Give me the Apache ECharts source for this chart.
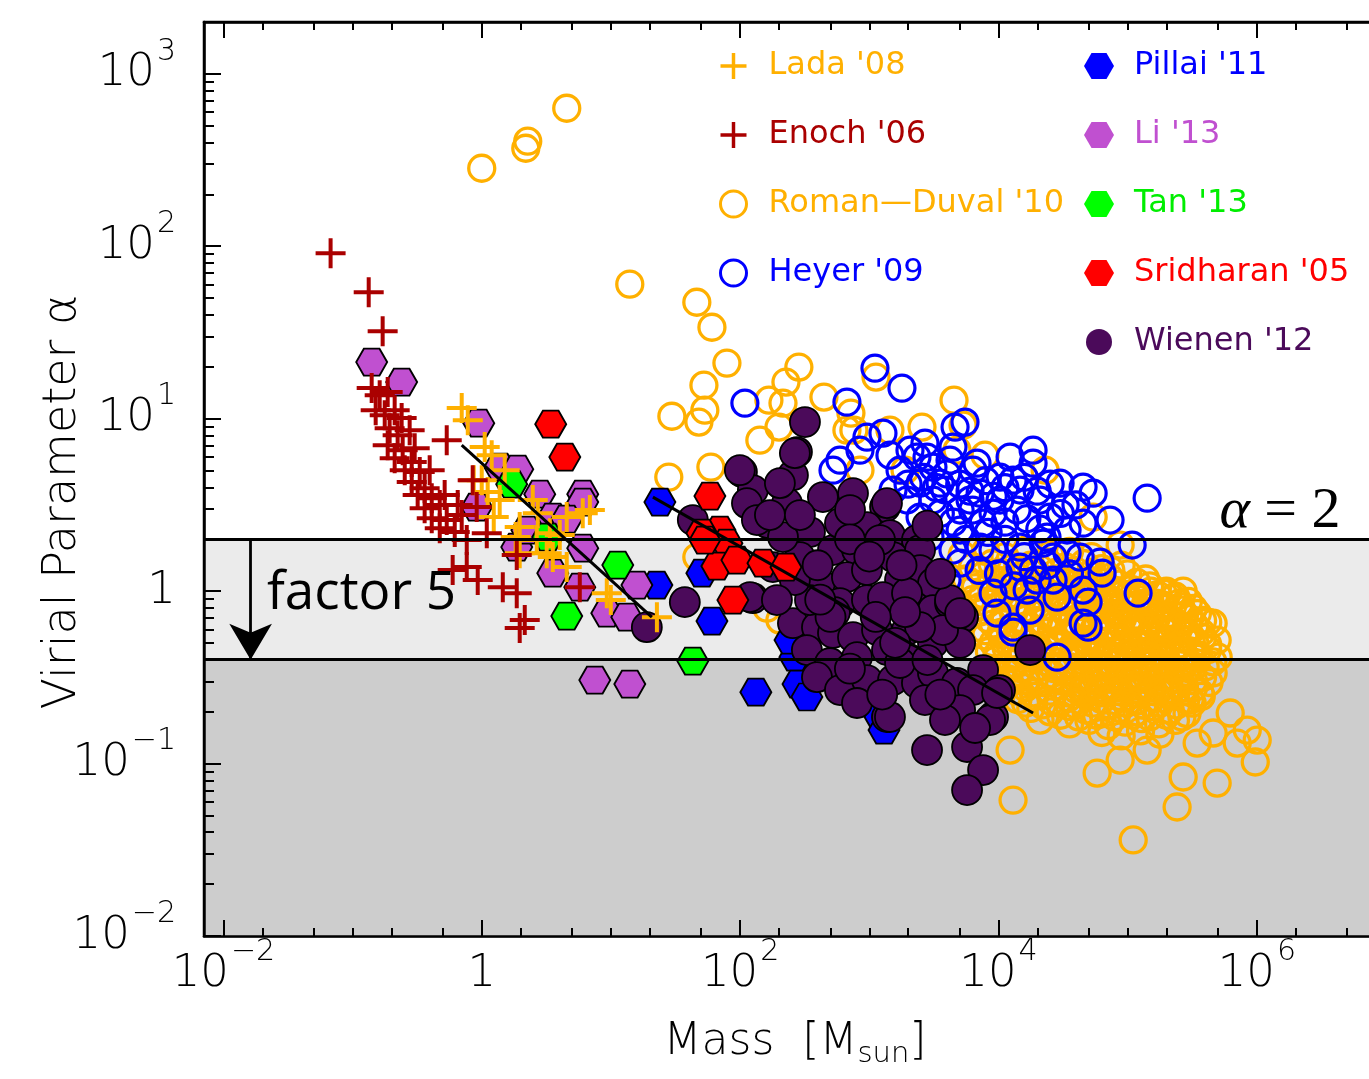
<!DOCTYPE html>
<html><head><meta charset="utf-8">
<script src="https://cdn.jsdelivr.net/npm/echarts@6/dist/echarts.min.js"></script>
<style>html,body{margin:0;padding:0;overflow:hidden;background:#fff}#c{width:1400px;height:1079px}</style>
</head><body><div id="c"></div>
<script>
// Points, stored as [log10(Mass/Msun), log10(alpha)].
const lada08 = [[-0.155,1.061],[-0.108,0.991],[0.023,0.835],[0.077,0.788],[0,0.643],[0.046,0.574],[0.139,0.528],[0.093,0.429],[0.294,0.371],[0.263,0.313],[0.395,0.528],[0.434,0.452],[0.527,0.336],[0.604,0.325],[0.658,0.429],[0.782,0.452],[0.837,0.470],[0.550,0.197],[0.658,0.139],[0.968,-0.012],[0.999,-0.052],[1.356,-0.151],[0.426,0.296],[0.503,0.220],[0.294,0.220],[0.178,0.701],[-0.062,0.643]];
const enoch06 = [[-1.170,1.959],[-0.875,1.733],[-0.767,1.507],[-0.852,1.177],[-0.790,1.136],[-0.728,1.154],[-0.821,1.049],[-0.751,1.020],[-0.674,1.049],[-0.620,1.003],[-0.713,0.945],[-0.651,0.904],[-0.558,0.933],[-0.728,0.846],[-0.612,0.817],[-0.674,0.771],[-0.542,0.748],[-0.596,0.701],[-0.480,0.690],[-0.542,0.632],[-0.442,0.597],[-0.496,0.557],[-0.387,0.539],[-0.442,0.481],[-0.325,0.499],[-0.387,0.423],[-0.271,0.412],[-0.325,0.365],[-0.209,0.342],[-0.271,0.875],[-0.070,0.643],[-0.155,0.441],[-0.039,0.487],[-0.116,0.296],[0.039,0.336],[-0.225,0.122],[-0.116,0.139],[-0.031,0.064],[0.163,0.023],[0.271,0.209],[0.271,-0.012],[0.294,-0.214],[0.333,-0.168],[0.759,0.023],[-0.519,0.829],[-0.403,0.701],[-0.287,0.557],[-0.186,0.499]];
const romanDuval10 = [[0,2.452],[0.341,2.568],[0.356,2.609],[0.658,2.800],[1.146,1.780],[1.665,1.675],[1.782,1.530],[1.898,1.322],[1.720,1.194],[1.472,1.014],[1.681,0.980],[1.727,1.049],[2.455,1.299],[2.355,1.212],[2.332,1.090],[2.301,0.951],[2.223,1.107],[2.649,1.125],[2.858,1.032],[2.881,0.933],[3.656,1.107],[3.408,0.951],[3.052,1.241],[1.448,0.661],[1.774,0.719],[2.827,0.933],[3.726,0.962],[2.153,0.875],[3.679,0.817],[3.160,0.933],[2.208,-0.099],[2.308,-0.168],[3.277,0.701],[3.896,0.788],[4.361,0.701],[4.733,0.429],[4.942,0.267],[2.928,0.701],[1.665,0.197],
[5.662,-0.186],[5.693,-0.284],[5.701,-0.383],[5.662,-0.475],[5.794,-0.707],[5.926,-0.806],[5.988,-0.991],[5.848,-0.881],[5.662,-0.823],[5.538,-0.881],[5.430,-1.078],[5.693,-1.113],[5.383,-1.252],[5.043,-1.443],[4.764,-1.055],[4.942,-0.980],[5.151,-0.922],[4.090,-0.922],[4.113,-1.212],[4.322,-0.748],[5.275,-0.012],[5.507,-0.441],[6.003,-0.864],[5.484,-0.632],
[3.72,0.21],[3.90,0.23],[4.05,0.20],[4.22,0.24],[4.40,0.21],[4.55,0.23],[4.72,0.20],
[3.80,0.14],[3.95,0.16],[4.10,0.13],[4.25,0.15],[4.38,0.17],[4.52,0.14],[4.66,0.16],[4.80,0.13],[4.95,0.15],
[3.75,0.07],[3.88,0.09],[4.02,0.06],[4.15,0.08],[4.30,0.10],[4.44,0.07],[4.58,0.09],[4.72,0.06],[4.86,0.08],[5.00,0.10],[5.14,0.07],
[3.82,0.02],[3.95,0.00],[4.08,0.02],[4.22,-0.01],[4.35,0.01],[4.49,0.03],[4.62,0.00],[4.76,0.02],[4.90,-0.01],[5.03,0.01],[5.17,0.03],[5.30,0.00],
[3.80,-0.05],[3.92,-0.07],[4.05,-0.04],[4.18,-0.06],[4.31,-0.08],[4.44,-0.05],[4.57,-0.07],[4.70,-0.04],[4.83,-0.06],[4.96,-0.08],[5.09,-0.05],[5.22,-0.07],[5.35,-0.04],[5.47,-0.06],
[3.86,-0.12],[3.99,-0.14],[4.12,-0.11],[4.25,-0.13],[4.38,-0.15],[4.51,-0.12],[4.64,-0.14],[4.77,-0.11],[4.90,-0.13],[5.03,-0.15],[5.16,-0.12],[5.29,-0.14],[5.42,-0.11],[5.54,-0.13],
[3.84,-0.21],[3.96,-0.19],[4.09,-0.22],[4.22,-0.20],[4.35,-0.18],[4.48,-0.21],[4.61,-0.19],[4.74,-0.22],[4.87,-0.20],[5.00,-0.18],[5.13,-0.21],[5.26,-0.19],[5.39,-0.22],[5.52,-0.20],[5.62,-0.18],
[3.90,-0.26],[4.03,-0.28],[4.16,-0.25],[4.29,-0.27],[4.42,-0.29],[4.55,-0.26],[4.68,-0.28],[4.81,-0.25],[4.94,-0.27],[5.07,-0.29],[5.20,-0.26],[5.33,-0.28],[5.46,-0.25],[5.58,-0.27],
[3.93,-0.35],[4.06,-0.33],[4.19,-0.36],[4.32,-0.34],[4.45,-0.32],[4.58,-0.35],[4.71,-0.33],[4.84,-0.36],[4.97,-0.34],[5.10,-0.32],[5.23,-0.35],[5.36,-0.33],[5.49,-0.36],[5.62,-0.34],
[3.98,-0.40],[4.11,-0.42],[4.24,-0.39],[4.37,-0.41],[4.50,-0.43],[4.63,-0.40],[4.76,-0.42],[4.89,-0.39],[5.02,-0.41],[5.15,-0.43],[5.28,-0.40],[5.41,-0.42],[5.54,-0.39],[5.66,-0.41],
[4.02,-0.49],[4.15,-0.47],[4.28,-0.50],[4.41,-0.48],[4.54,-0.46],[4.67,-0.49],[4.80,-0.47],[4.93,-0.50],[5.06,-0.48],[5.19,-0.46],[5.32,-0.49],[5.45,-0.47],[5.58,-0.50],
[4.08,-0.54],[4.21,-0.56],[4.34,-0.53],[4.47,-0.55],[4.60,-0.57],[4.73,-0.54],[4.86,-0.56],[4.99,-0.53],[5.12,-0.55],[5.25,-0.57],[5.38,-0.54],[5.51,-0.56],[5.63,-0.53],
[4.15,-0.63],[4.28,-0.61],[4.41,-0.64],[4.54,-0.62],[4.67,-0.60],[4.80,-0.63],[4.93,-0.61],[5.06,-0.64],[5.19,-0.62],[5.32,-0.60],[5.45,-0.63],[5.57,-0.61],
[4.25,-0.68],[4.40,-0.70],[4.55,-0.67],[4.68,-0.69],[4.81,-0.71],[4.94,-0.68],[5.07,-0.70],[5.20,-0.67],[5.33,-0.69],[5.46,-0.71],
[4.55,-0.77],[4.70,-0.75],[4.85,-0.78],[4.98,-0.76],[5.11,-0.74],[5.24,-0.77],[5.37,-0.75],
[4.80,-0.82],[4.95,-0.84],[5.10,-0.81],[5.25,-0.83],
[3.87,0.12],[4.02,0.11],[4.17,0.12],[4.32,0.13],[4.45,0.11],[4.59,0.12],[4.73,0.11],[4.87,0.12],
[3.82,0.04],[3.95,0.05],[4.09,0.04],[4.22,0.05],[4.37,0.04],[4.51,0.05],[4.65,0.04],[4.79,0.05],[4.93,0.04],[5.07,0.05],
[3.88,-0.02],[4.01,-0.03],[4.15,-0.02],[4.28,-0.03],[4.42,-0.02],[4.55,-0.03],[4.69,-0.02],[4.83,-0.03],[4.96,-0.02],[5.10,-0.03],[5.23,-0.02],[5.37,-0.03],
[3.86,-0.09],[3.98,-0.10],[4.11,-0.09],[4.24,-0.10],[4.37,-0.09],[4.50,-0.10],[4.63,-0.09],[4.76,-0.10],[4.89,-0.09],[5.02,-0.10],[5.15,-0.09],[5.28,-0.10],[5.41,-0.09],[5.51,-0.10],
[3.92,-0.16],[4.05,-0.17],[4.18,-0.16],[4.31,-0.17],[4.44,-0.16],[4.57,-0.17],[4.70,-0.16],[4.83,-0.17],[4.96,-0.16],[5.09,-0.17],[5.22,-0.16],[5.35,-0.17],[5.48,-0.16],[5.58,-0.17],
[3.90,-0.23],[4.02,-0.24],[4.15,-0.23],[4.28,-0.24],[4.41,-0.23],[4.54,-0.24],[4.67,-0.23],[4.80,-0.24],[4.93,-0.23],[5.06,-0.24],[5.19,-0.23],[5.32,-0.24],[5.45,-0.23],[5.57,-0.24],
[3.96,-0.30],[4.09,-0.31],[4.22,-0.30],[4.35,-0.31],[4.48,-0.30],[4.61,-0.31],[4.74,-0.30],[4.87,-0.31],[5.00,-0.30],[5.13,-0.31],[5.26,-0.30],[5.39,-0.31],[5.52,-0.30],[5.62,-0.31],
[3.99,-0.37],[4.12,-0.38],[4.25,-0.37],[4.38,-0.38],[4.51,-0.37],[4.64,-0.38],[4.77,-0.37],[4.90,-0.38],[5.03,-0.37],[5.16,-0.38],[5.29,-0.37],[5.42,-0.38],[5.55,-0.37],
[4.04,-0.44],[4.17,-0.45],[4.30,-0.44],[4.43,-0.45],[4.56,-0.44],[4.69,-0.45],[4.82,-0.44],[4.95,-0.45],[5.08,-0.44],[5.21,-0.45],[5.34,-0.44],[5.47,-0.45],[5.60,-0.44],
[4.08,-0.51],[4.21,-0.52],[4.34,-0.51],[4.47,-0.52],[4.60,-0.51],[4.73,-0.52],[4.86,-0.51],[4.99,-0.52],[5.12,-0.51],[5.25,-0.52],[5.38,-0.51],[5.51,-0.52],
[4.14,-0.58],[4.27,-0.59],[4.40,-0.58],[4.53,-0.59],[4.66,-0.58],[4.79,-0.59],[4.92,-0.58],[5.05,-0.59],[5.18,-0.58],[5.31,-0.59],[5.44,-0.58],[5.56,-0.59],
[4.21,-0.65],[4.34,-0.66],[4.47,-0.65],[4.60,-0.66],[4.73,-0.65],[4.86,-0.66],[4.99,-0.65],[5.12,-0.66],[5.25,-0.65],[5.38,-0.66],[5.50,-0.65],
[4.48,-0.72],[4.62,-0.73],[4.76,-0.72],[4.90,-0.73],[5.04,-0.72],[5.17,-0.73],[5.30,-0.72],[5.42,-0.73],
[4.66,-0.005],[4.79,-0.01],[4.92,0.00],[5.05,-0.01],[5.18,0.00],[5.31,-0.01],[5.43,0.00],
[4.62,-0.075],[4.75,-0.08],[4.88,-0.07],[5.01,-0.08],[5.14,-0.07],[5.27,-0.08],[5.40,-0.07],
[4.66,-0.145],[4.79,-0.15],[4.92,-0.14],[5.05,-0.15],[5.18,-0.14],[5.31,-0.15],[5.44,-0.14],
[4.62,-0.215],[4.75,-0.22],[4.88,-0.21],[5.01,-0.22],[5.14,-0.21],[5.27,-0.22],[5.40,-0.21],
[4.66,-0.285],[4.79,-0.29],[4.92,-0.28],[5.05,-0.29],[5.18,-0.28],[5.31,-0.29],[5.44,-0.28],
[4.62,-0.355],[4.75,-0.36],[4.88,-0.35],[5.01,-0.36],[5.14,-0.35],[5.27,-0.36],[5.40,-0.35],
[4.66,-0.425],[4.79,-0.43],[4.92,-0.42],[5.05,-0.43],[5.18,-0.42],[5.31,-0.43],[5.44,-0.42],
[4.62,-0.495],[4.75,-0.50],[4.88,-0.49],[5.01,-0.50],[5.14,-0.49],[5.27,-0.50],[5.40,-0.49],
[4.66,-0.565],[4.79,-0.57],[4.92,-0.56],[5.05,-0.57],[5.18,-0.56],[5.31,-0.57],[5.44,-0.56]];
const heyer09 = [[2.037,1.090],[2.827,1.096],[3.044,1.293],[3.253,1.177],[3.741,0.980],[3.664,0.951],[2.982,0.893],[3.106,0.916],[2.773,0.759],[2.719,0.701],[2.928,0.817],[3.315,0.817],[3.431,0.858],[3.493,0.719],[3.625,0.759],[3.834,0.742],[4.090,0.777],[4.268,0.817],[4.268,0.742],[4.012,0.661],[3.858,0.568],[4.167,0.586],[4.477,0.626],[4.655,0.603],[3.493,0.528],[3.393,0.429],[3.703,0.470],[3.881,0.394],[4.144,0.470],[4.400,0.429],[4.531,0.354],[4.655,0.394],[3.648,0.238],[3.703,0.162],[3.958,0.238],[4.167,0.255],[4.345,0.278],[3.958,-0.012],[3.989,-0.128],[4.222,0.006],[4.113,-0.209],[4.423,0.197],[4.655,0.006],[4.655,-0.186],[4.454,-0.383],[4.268,0.122],[3.703,0.354],[3.470,0.313],[3.292,0.528],[3.184,0.586],[3.393,0.626],[3.548,0.626],[4.733,0.568],[5.151,0.539],[4.864,0.412],[5.035,0.267],[4.787,0.168],[4.802,0.104],[5.081,-0.012],[4.694,-0.064],[4.694,-0.209],[4.113,-0.238],[4.245,-0.110],[4.423,0.064],[4.531,0.220],[4.376,0.313],[4.632,0.197],[3.803,0.701],[4.113,0.643],[3.958,0.452],[3.858,0.255],[3.602,0.064],[4.167,0.139],[4.299,0.064],[4.454,-0.035],[3.369,0.777],[3.447,0.777],[3.648,0.835],[3.160,0.788],[3.238,0.701],[3.586,0.586],[3.780,0.528],[4.012,0.528],[4.322,0.528],[4.516,0.499],
[3.30,0.62],[3.42,0.66],[3.52,0.60],[3.60,0.68],[3.70,0.62],[3.78,0.58],[3.90,0.64],[3.96,0.55],[4.05,0.60],[4.20,0.66],[4.30,0.58],[4.40,0.62],[3.55,0.45],[3.65,0.40],[3.80,0.47],[3.92,0.34],[4.05,0.40],[4.22,0.42],[4.32,0.36],[4.48,0.45],[4.60,0.50],[3.75,0.30],[4.05,0.30],[4.20,0.20],[4.38,0.15],[4.55,0.10],[4.00,0.10],[3.85,0.12],[4.12,0.03]];
const pillai11 = [[1.379,0.516],[1.704,0.104],[1.356,0.035],[1.782,-0.174],[2.122,-0.586],[2.424,-0.383],[2.448,-0.539],[2.517,-0.614],[3.083,-0.730],[3.114,-0.806],[2.386,-0.284]];
const li13 = [[-0.852,1.328],[-0.620,1.212],[-0.023,0.974],[0.139,0.719],[0.279,0.707],[0.449,0.562],[0.782,0.562],[0.782,0.516],[-0.039,0.487],[0.550,0.429],[0.658,0.417],[0.271,0.255],[0.782,0.249],[0.550,0.104],[0.759,0.023],[0.968,-0.128],[1.123,-0.151],[1.201,0.035],[0.875,-0.516],[1.146,-0.539],[0.349,0.354]];
const tan13 = [[0.232,0.620],[0.511,0.313],[1.053,0.151],[0.658,-0.145],[1.634,-0.406]];
const sridharan05 = [[0.534,0.968],[0.643,0.777],[1.766,0.551],[1.844,0.354],[1.704,0.336],[1.898,0.278],[1.820,0.145],[1.975,0.180],[2.177,0.162],[2.355,0.139],[1.944,-0.052],[1.727,0.296]];
const wienen12 = [[2.502,0.980],[2.440,0.806],[2.409,0.672],[2.014,0.690],[2.099,0.586],[2.053,0.510],[2.363,0.510],[2.641,0.545],[2.874,0.568],[3.122,0.487],[2.215,0.394],[2.541,0.342],[2.982,0.371],[3.160,0.325],[3.369,0.296],[1.634,0.412],[1.572,-0.064],[1.278,-0.209],[2.099,-0.041],[2.254,0.139],[2.463,0.197],[2.719,0.238],[2.905,0.238],[3.184,0.197],[3.393,0.238],[2.409,-0.186],[2.618,0.046],[2.827,0.081],[2.982,0.122],[3.238,0.064],[3.393,0.122],[2.595,-0.209],[2.773,-0.070],[2.982,-0.052],[3.106,-0.035],[3.338,-0.035],[3.493,0.046],[2.517,-0.342],[2.719,-0.243],[2.874,-0.267],[3.060,-0.226],[3.292,-0.226],[3.493,-0.110],[3.625,-0.070],[3.726,-0.151],[2.696,-0.417],[2.905,-0.383],[3.137,-0.342],[3.315,-0.400],[3.493,-0.301],[3.703,-0.301],[2.595,-0.499],[2.773,-0.574],[2.982,-0.516],[3.184,-0.516],[3.369,-0.533],[3.493,-0.475],[3.679,-0.533],[3.881,-0.458],[3.803,-0.574],[4.012,-0.574],[3.958,-0.730],[4.245,-0.342],[3.137,-0.730],[2.905,-0.649],[3.447,-0.922],[3.757,-0.904],[3.881,-1.038],[3.757,-1.154],[3.625,-0.052],[3.571,-0.226],[2.308,0.626],[2.130,0.412],[2.332,0.313],[2.773,0.394],[3.137,0.510],[3.292,-0.012],[3.703,-0.128],[3.393,-0.209],[3.238,-0.417],[3.703,-0.690],[3.935,-0.748],[3.989,-0.591],[3.160,-0.730],[2.424,0.800],[2.076,-0.035],[1.998,0.701],[2.231,0.441],[2.463,0.441],[2.851,0.470],[3.083,0.296],[2.541,-0.052],[2.424,0.064],[2.285,-0.052],[2.734,-0.122],[3.277,-0.122],[3.431,-0.632],[3.586,-0.748],[3.819,-0.794],
[2.60,0.15],[2.85,0.30],[3.00,0.20],[3.25,0.15],[2.70,-0.15],[3.05,-0.15],[3.20,-0.30],[3.45,-0.40],[2.85,-0.45],[3.10,-0.60],[3.55,-0.60],[2.62,-0.05],[3.45,0.38],[3.55,0.10]];
// black power-law fit segments, [log10 M, log10 alpha] end points
const fitSmall = [[-0.155,0.846],[1.317,-0.151]];
const fitLarge = [[1.325,0.545],[4.268,-0.707]];
// reference levels
const alphaCrit = 2, alphaLow = 0.4, arrowMass = 0.01625;
// tick positions
const xMajorExp = [-2,0,2,4,6];
const xMinorVals = [0.02,0.05,0.1,0.2,0.5,2,5,10,20,50,200,500,1000,2000,5000,2e4,5e4,1e5,2e5,5e5,2e6,5e6];
const yMajorExp = [-2,-1,0,1,2,3];
const yDecades = [0.01,0.1,1,10,100];
const yMults = [2,3,4,5,6,7,8,9];

const X_MIN = -2.15, X_MAX = 7, Y_MIN = -2, Y_MAX = 3.3;
const toVal = a => a.map(p => [Math.pow(10,p[0]), Math.pow(10,p[1])]);
const xMinorExp = xMinorVals.map(v => Math.log10(v));
const yMinorExp = [];
yDecades.forEach(d => yMults.forEach(m => yMinorExp.push(Math.log10(d*m))));

const FONT = 'DejaVu Sans';
const plus = 'path://M13,0h4v13h13v4h-13v13h-4v-13h-13v-4h13z';
const hexa = 'path://M0,13L7.5,0L22.5,0L30,13L22.5,26L7.5,26Z';
const C = {lada:'#ffb000', enoch:'#aa0000', rd:'#ffb000', heyer:'#0000ff', pillai:'#0000ff', li:'#c050d0', tan:'#00ff00', srid:'#ff0000', wien:'#4b0a5a'};
const N = {lada:"Lada '08", enoch:"Enoch '06", rd:"Roman\u2014Duval '10", heyer:"Heyer '09", pillai:"Pillai '11", li:"Li '13", tan:"Tan '13", srid:"Sridharan '05", wien:"Wienen '12"};

const lab = (extra) => Object.assign({fontFamily:FONT, fontWeight:200, color:'#000'}, extra);
const richY = {
  b:lab({fontSize:45, lineHeight:46, padding:[14,0,14,0]}),
  o:lab({fontSize:45, lineHeight:46, padding:[14,0,14,0]}),
  s:lab({fontSize:30, lineHeight:30, padding:[0,0,44,2]})
};
const richX = {
  b:lab({fontSize:45, lineHeight:46, padding:[14,0,14,0]}),
  o:lab({fontSize:45, lineHeight:46, padding:[14,0,14,0]}),
  s:lab({fontSize:30, lineHeight:30, padding:[0,0,44,2]})
};
function powLabel(v){
  const e = Math.round(v);
  if (e === 0) return '{o|1}';
  return '{b|10}{s|' + (e < 0 ? '\u2212' : '') + Math.abs(e) + '}';
}
function tickAxis(pos, min, max, vals, len, opts){
  return Object.assign({
    type:'value', position:pos, min:min, max:max, z:10,
    axisLine:{show:true, onZero:false, lineStyle:{color:'#000', width:2.5}},
    axisTick:{show:true, inside:true, length:len, customValues:vals, lineStyle:{color:'#000', width:2}},
    axisLabel:{show:false}, splitLine:{show:false}, silent:true
  }, opts || {});
}

const chart = echarts.init(document.getElementById('c'), null, {renderer:'canvas'});
const scatter = (name, data, symbol, size, style, z) => ({
  name:name, type:'scatter', data:toVal(data), symbol:symbol, symbolSize:size,
  itemStyle:Object.assign({opacity:1}, style), emphasis:{disabled:true}, silent:true, z:z||2
});
const legendText = {fontFamily:FONT, fontSize:32, lineHeight:32};
chart.setOption({
  animation:false,
  backgroundColor:'#fff',
  grid:{left:204, top:22, right:14, bottom:143, show:true, borderColor:'#000', borderWidth:2.5, backgroundColor:'transparent', containLabel:false, outerBoundsMode:'none'},
  xAxis:[
    {type:'log', logBase:10, min:Math.pow(10,X_MIN), max:Math.pow(10,X_MAX), show:false},
    tickAxis('bottom', X_MIN, X_MAX, xMajorExp, 16, {
      axisLabel:{show:true, customValues:xMajorExp, margin:15, formatter:powLabel, rich:richX},
      name:'{m|Mass  [M}{u|sun}{m|]}', nameLocation:'middle', nameGap:78,
      nameTextStyle:{rich:{
        m:lab({fontSize:44, lineHeight:50}),
        u:lab({fontSize:29, lineHeight:50, padding:[24,0,0,0]})}}
    }),
    tickAxis('bottom', X_MIN, X_MAX, xMinorExp, 8, {axisLine:{show:false, onZero:false}}),
    tickAxis('top', X_MIN, X_MAX, xMajorExp, 16),
    tickAxis('top', X_MIN, X_MAX, xMinorExp, 8, {axisLine:{show:false, onZero:false}})
  ],
  yAxis:[
    {type:'log', logBase:10, min:Math.pow(10,Y_MIN), max:Math.pow(10,Y_MAX), show:false},
    tickAxis('left', Y_MIN, Y_MAX, yMajorExp, 17, {
      axisLabel:{show:true, customValues:yMajorExp, margin:28, formatter:powLabel, rich:richY},
      name:'Virial Parameter \u03b1', nameLocation:'middle', nameGap:118, nameMoveOverlap:false,
      nameTextStyle:lab({fontSize:46, padding:[0,46,0,0]})
    }),
    tickAxis('left', Y_MIN, Y_MAX, yMinorExp, 10, {axisLine:{show:false, onZero:false}})
  ],
  legend:[
    {left:714, top:45, orient:'vertical', itemWidth:60, itemHeight:26, itemGap:37, selectedMode:false,
     textStyle:legendText,
     data:[
       {name:N.lada, icon:plus, itemStyle:{color:C.lada, borderWidth:0, opacity:1}, textStyle:{color:C.lada}},
       {name:N.enoch, icon:plus, itemStyle:{color:C.enoch, borderWidth:0, opacity:1}, textStyle:{color:C.enoch}},
       {name:N.rd, icon:'circle', itemStyle:{color:'rgba(0,0,0,0)', borderColor:C.rd, borderWidth:3, opacity:1}, textStyle:{color:C.rd}},
       {name:N.heyer, icon:'circle', itemStyle:{color:'rgba(0,0,0,0)', borderColor:C.heyer, borderWidth:3, opacity:1}, textStyle:{color:C.heyer}}
     ]},
    {left:1079, top:45, orient:'vertical', itemWidth:60, itemHeight:26, itemGap:37, selectedMode:false,
     textStyle:legendText,
     data:[
       {name:N.pillai, icon:hexa, itemStyle:{color:C.pillai, borderWidth:0, opacity:1}, textStyle:{color:C.pillai}},
       {name:N.li, icon:hexa, itemStyle:{color:C.li, borderWidth:0, opacity:1}, textStyle:{color:C.li}},
       {name:N.tan, icon:hexa, itemStyle:{color:C.tan, borderWidth:0, opacity:1}, textStyle:{color:'#00ee00'}},
       {name:N.srid, icon:hexa, itemStyle:{color:C.srid, borderWidth:0, opacity:1}, textStyle:{color:C.srid}},
       {name:N.wien, icon:'circle', itemStyle:{color:C.wien, borderWidth:0, opacity:1}, textStyle:{color:C.wien}}
     ]}
  ],
  graphic:[
    {type:'text', x:267, y:594, z:50, style:{text:'factor 5', fontSize:53, fontFamily:'Open Sans', fill:'#000', verticalAlign:'middle', textVerticalAlign:'middle'}},
    {type:'text', x:1280, y:512, z:50, style:{text:'{a|\u03b1} = 2', fontSize:58, fontFamily:'Liberation Serif', fill:'#000', align:'center', textAlign:'center', verticalAlign:'middle', textVerticalAlign:'middle',
      rich:{a:{fontSize:58, fontFamily:'Liberation Serif', fontStyle:'italic', fill:'#000'}}}}
  ],
  series:[
    {name:'bands', type:'scatter', data:[], silent:true, z:1,
     markArea:{silent:true, data:[
       [{yAxis:Math.pow(10,Y_MIN), itemStyle:{color:'#cdcdcd'}},{yAxis:alphaLow}],
       [{yAxis:alphaLow, itemStyle:{color:'#ebebeb'}},{yAxis:alphaCrit}]
     ]},
     markLine:{silent:true, symbol:['none','none'], label:{show:false}, lineStyle:{color:'#000', width:2.8, type:'solid'},
       data:[{yAxis:alphaCrit},{yAxis:alphaLow}]}},
    {name:'arrow', type:'scatter', data:[], silent:true, z:1,
     markLine:{silent:true, symbol:['none','arrow'], symbolSize:[32,36], label:{show:false}, lineStyle:{color:'#000', width:2.8, type:'solid'},
       data:[[{coord:[arrowMass, alphaCrit]},{coord:[arrowMass, alphaLow]}]]}},
    scatter(N.rd, romanDuval10, 'circle', 26, {color:'rgba(0,0,0,0)', borderColor:C.rd, borderWidth:3.3}),
    scatter(N.heyer, heyer09, 'circle', 26, {color:'rgba(0,0,0,0)', borderColor:C.heyer, borderWidth:3.2}),
    scatter(N.pillai, pillai11, hexa, [31,27], {color:C.pillai, borderColor:'#000', borderWidth:1.8}),
    scatter(N.li, li13, hexa, [31,27], {color:C.li, borderColor:'#000', borderWidth:1.8}),
    scatter(N.tan, tan13, hexa, [31,27], {color:C.tan, borderColor:'#000', borderWidth:1.8}),
    scatter(N.wien, wienen12, 'circle', 30, {color:C.wien, borderColor:'#000', borderWidth:1.8}),
    scatter(N.srid, sridharan05, hexa, [31,27], {color:C.srid, borderColor:'#000', borderWidth:1.8}),
    scatter(N.lada, lada08, plus, 30, {color:C.lada}),
    scatter(N.enoch, enoch06, plus, 30, {color:C.enoch}),
    {name:'fit1', type:'line', data:toVal(fitSmall), symbol:'none', silent:true, z:4, lineStyle:{color:'#000', width:3}},
    {name:'fit2', type:'line', data:toVal(fitLarge), symbol:'none', silent:true, z:4, lineStyle:{color:'#000', width:3}}
  ]
});
</script></body></html>
